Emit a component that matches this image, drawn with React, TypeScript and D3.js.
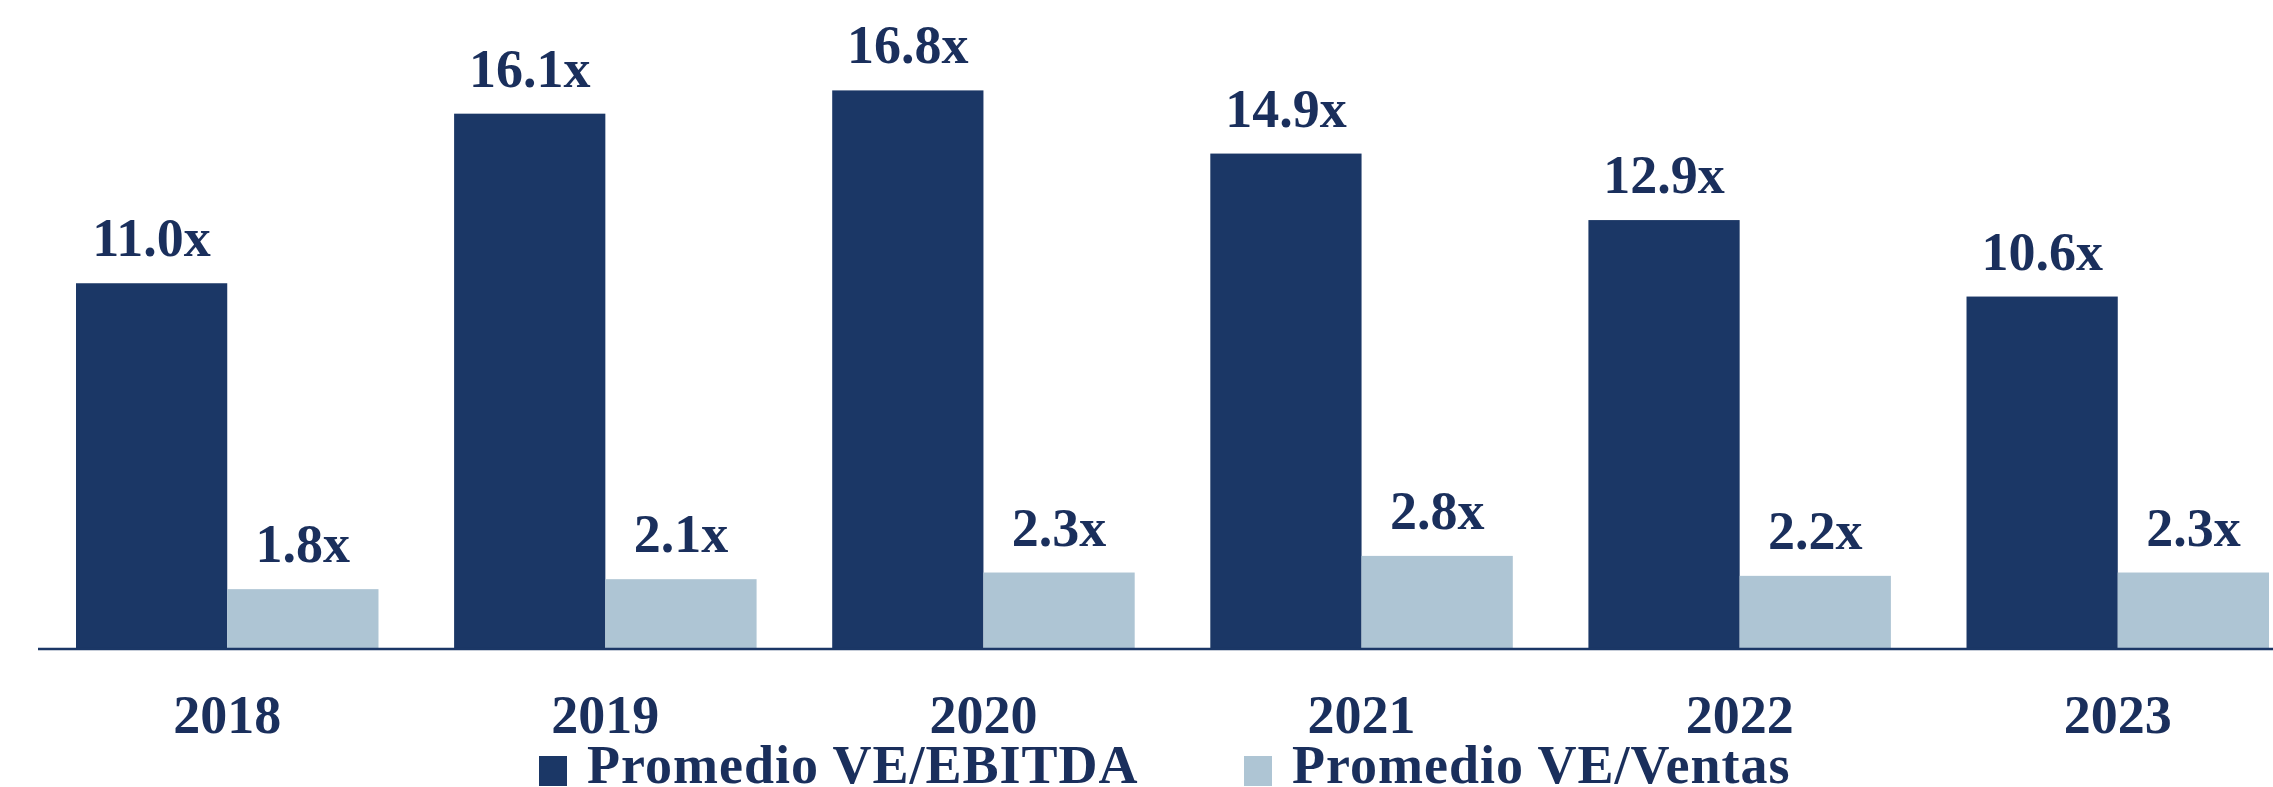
import { useEffect, useRef } from "react"
import * as d3 from "d3"

const years = ["2018", "2019", "2020", "2021", "2022", "2023"]
const seriesNames = ["Promedio VE/EBITDA", "Promedio VE/Ventas"]
const veEbitda = [11.0, 16.1, 16.8, 14.9, 12.9, 10.6]
const veVentas = [1.8, 2.1, 2.3, 2.8, 2.2, 2.3]
const colors = ["#1b3766", "#aec5d4"]

const W = 2273
const H = 787
const textColor = "#1a2f5c"
const font = "'Liberation Serif', 'Times New Roman', serif"

export default function App() {
  const svgRef = useRef<SVGSVGElement>(null)

  useEffect(() => {
    if (!svgRef.current) return
    const svg = d3.select(svgRef.current)
    svg.selectAll("*").remove()

    const baseY = 649
    const y = d3.scaleLinear().domain([0, 17]).range([baseY, baseY - 17 * 33.25])
    const x0 = d3.scaleBand<string>().domain(years).range([76, 2269]).paddingInner(0.2).paddingOuter(0)
    const x1 = d3.scaleBand<string>().domain(seriesNames).range([0, x0.bandwidth()]).padding(0)

    const rows = years.map((yr, i) => ({
      year: yr,
      values: [
        { key: seriesNames[0], v: veEbitda[i] },
        { key: seriesNames[1], v: veVentas[i] },
      ],
    }))

    const group = svg
      .selectAll(".grp")
      .data(rows)
      .enter()
      .append("g")
      .attr("class", "grp")
      .attr("transform", (d) => `translate(${x0(d.year)},0)`)

    group
      .selectAll("rect")
      .data((d) => d.values)
      .enter()
      .append("rect")
      .attr("x", (d) => x1(d.key)!)
      .attr("y", (d) => y(d.v))
      .attr("width", x1.bandwidth())
      .attr("height", (d) => baseY - y(d.v))
      .style("fill", (d, i) => colors[i])

    group
      .selectAll(".val")
      .data((d) => d.values)
      .enter()
      .append("text")
      .attr("class", "val")
      .attr("x", (d) => x1(d.key)! + x1.bandwidth() / 2)
      .attr("y", (d) => y(d.v) - 27)
      .attr("text-anchor", "middle")
      .style("font-family", font)
      .style("font-weight", "bold")
      .style("font-size", "54px")
      .style("fill", textColor)
      .text((d) => `${d.v.toFixed(1)}x`)

    // baseline
    svg
      .append("line")
      .attr("x1", 38)
      .attr("x2", W)
      .attr("y1", baseY)
      .attr("y2", baseY)
      .style("stroke", "#1b3766")
      .style("stroke-width", 2.5)

    svg
      .selectAll(".yr")
      .data(years)
      .enter()
      .append("text")
      .attr("class", "yr")
      .attr("x", (d) => x0(d)! + x0.bandwidth() / 2)
      .attr("y", 733)
      .attr("text-anchor", "middle")
      .style("font-family", font)
      .style("font-weight", "bold")
      .style("font-size", "54px")
      .style("fill", textColor)
      .text((d) => d)

    // legend
    const legendX = [539, 1244]
    const legend = svg
      .selectAll(".lg")
      .data(seriesNames)
      .enter()
      .append("g")
      .attr("class", "lg")
      .attr("transform", (d, i) => `translate(${legendX[i]},0)`)

    legend
      .append("rect")
      .attr("x", 0)
      .attr("y", 756)
      .attr("width", 28)
      .attr("height", 30)
      .style("fill", (d, i) => colors[i])

    legend
      .append("text")
      .attr("x", 48)
      .attr("y", 783)
      .style("font-family", font)
      .style("font-weight", "bold")
      .style("font-size", "54px")
      .style("letter-spacing", "1px")
      .style("fill", textColor)
      .text((d) => d)
  }, [])

  return (
    <svg
      ref={svgRef}
      width={W}
      height={H}
      style={{ position: "absolute", left: 0, top: 0, background: "#fff" }}
    />
  )
}
